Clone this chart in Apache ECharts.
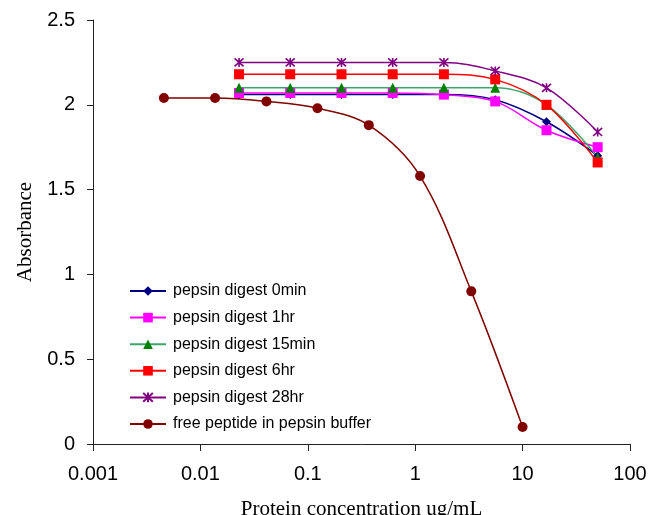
<!DOCTYPE html>
<html>
<head>
<meta charset="utf-8">
<script src="https://cdn.jsdelivr.net/npm/echarts@6/dist/echarts.min.js"></script>
<style>html,body{margin:0;padding:0;background:#fff;}#c{width:661px;height:515px;}</style>
</head>
<body>
<div id="c"></div>
<script>
// Data
const pepsinX = [0.0229, 0.0686, 0.206, 0.617, 1.85, 5.56, 16.7, 50];
const freeX = [0.00457, 0.0137, 0.0412, 0.123, 0.370, 1.11, 3.33, 10];
const digest0min = [2.06, 2.06, 2.06, 2.06, 2.06, 2.03, 1.90, 1.70];
const digest1hr = [2.07, 2.07, 2.07, 2.07, 2.06, 2.02, 1.85, 1.75];
const digest15min = [2.10, 2.10, 2.10, 2.10, 2.10, 2.10, 2.00, 1.69];
const digest6hr = [2.18, 2.18, 2.18, 2.18, 2.18, 2.15, 2.00, 1.66];
const digest28hr = [2.25, 2.25, 2.25, 2.25, 2.25, 2.20, 2.10, 1.84];
const freePeptide = [2.04, 2.04, 2.02, 1.98, 1.88, 1.58, 0.90, 0.10];
const seriesNames = ['pepsin digest 0min', 'pepsin digest 1hr', 'pepsin digest 15min', 'pepsin digest 6hr', 'pepsin digest 28hr', 'free peptide in pepsin buffer'];
const xTickLabels = ['0.001', '0.01', '0.1', '1', '10', '100'];

const pairs = (xs, ys) => xs.map((x, i) => [x, ys[i]]);
const starPath = 'path://M5,0L5,10M0.5,0.5L9.5,9.5M0.5,9.5L9.5,0.5';

function mk(name, xs, ys, lineColor, markColor, symbol, size, extra) {
  return Object.assign({
    name: name,
    type: 'line',
    data: pairs(xs, ys),
    smooth: 0.35,
    symbol: symbol,
    symbolSize: size,
    showSymbol: true,
    lineStyle: { color: lineColor, width: 1.5 },
    itemStyle: { color: markColor, borderColor: markColor, borderWidth: 0, opacity: 1 },
    emphasis: { disabled: true },
    animation: false
  }, extra || {});
}

const chart = echarts.init(document.getElementById('c'));
chart.setOption({
  backgroundColor: '#ffffff',
  animation: false,
  grid: { left: 93, right: 31, top: 20, bottom: 71, containLabel: false, outerBoundsMode: 'none' },
  legend: {
    orient: 'vertical',
    left: 124,
    top: 278,
    itemWidth: 36,
    itemHeight: 12,
    itemGap: 10.6,
    selectedMode: false,
    data: seriesNames,
    textStyle: { fontFamily: 'Liberation Sans, Arial, sans-serif', fontSize: 16, color: '#000', lineHeight: 16, padding: [0, 0, 0, 2] }
  },
  xAxis: {
    type: 'log',
    logBase: 10,
    min: 0.001,
    max: 100,
    name: 'Protein concentration ug/mL',
    nameLocation: 'middle',
    nameGap: 55,
    nameTextStyle: { fontFamily: 'Liberation Serif, Times New Roman, serif', fontSize: 21, color: '#000' },
    axisLine: { show: true, lineStyle: { color: '#222', width: 1 } },
    axisTick: { show: true, inside: false, length: 7, lineStyle: { color: '#222' } },
    minorTick: { show: false },
    splitLine: { show: false },
    axisLabel: {
      margin: 20,
      fontFamily: 'Liberation Sans, Arial, sans-serif',
      fontSize: 20,
      color: '#000',
      formatter: function (v) {
        const idx = Math.round(Math.log10(v)) + 3;
        return xTickLabels[idx] !== undefined ? xTickLabels[idx] : '';
      }
    }
  },
  yAxis: {
    type: 'value',
    min: 0,
    max: 2.5,
    interval: 0.5,
    name: 'Absorbance',
    nameLocation: 'middle',
    nameGap: 55,
    nameTextStyle: { fontFamily: 'Liberation Serif, Times New Roman, serif', fontSize: 21, color: '#000' },
    axisLine: { show: true, lineStyle: { color: '#222', width: 1 } },
    axisTick: { show: true, inside: false, length: 6, lineStyle: { color: '#222' } },
    splitLine: { show: false },
    axisLabel: { margin: 18, fontFamily: 'Liberation Sans, Arial, sans-serif', fontSize: 20, color: '#000' }
  },
  series: [
    mk(seriesNames[0], pepsinX, digest0min, '#000080', '#000080', 'diamond', 9),
    mk(seriesNames[1], pepsinX, digest1hr, '#FF00FF', '#FF00FF', 'rect', 10),
    mk(seriesNames[2], pepsinX, digest15min, '#3CA66A', '#008000', 'triangle', 10),
    mk(seriesNames[3], pepsinX, digest6hr, '#FF0000', '#FF0000', 'rect', 10),
    mk(seriesNames[4], pepsinX, digest28hr, '#800080', '#800080', starPath, 9, {
      itemStyle: { color: 'none', borderColor: '#800080', borderWidth: 1.6, opacity: 1 }
    }),
    mk(seriesNames[5], freeX, freePeptide, '#800000', '#800000', 'circle', 10)
  ]
});
</script>
</body>
</html>
